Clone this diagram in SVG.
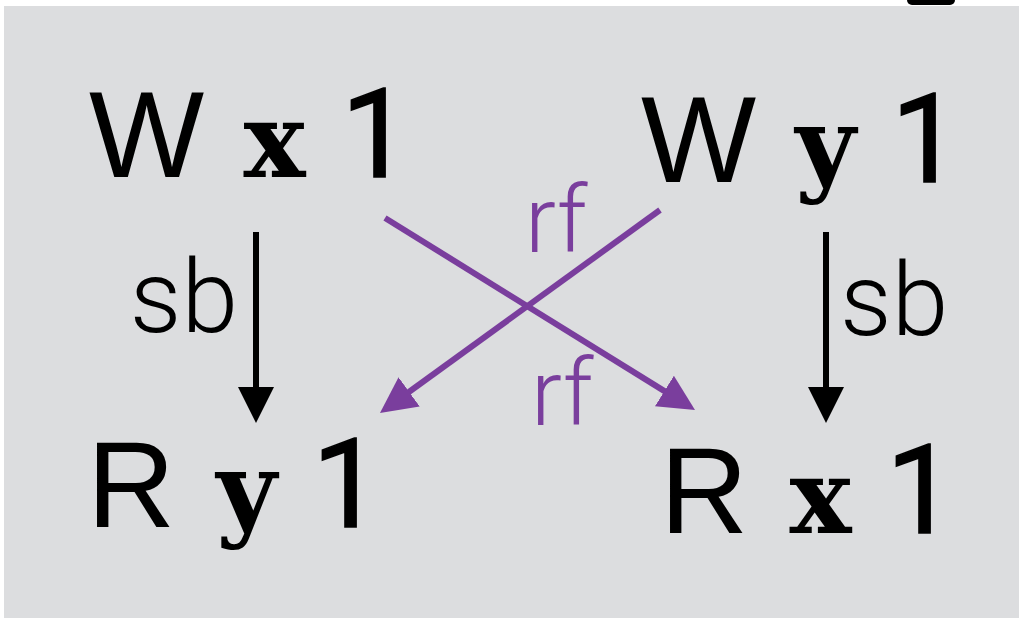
<svg xmlns="http://www.w3.org/2000/svg" width="1019" height="618" viewBox="0 0 1019 618">
<style>
.main{font-family:"Liberation Sans",Arial,sans-serif;font-size:122px;fill:#000}
.one{font-family:Roboto,"Open Sans",sans-serif;font-weight:400;font-size:124px;fill:#000;stroke:#000;stroke-width:1.5}
.mono{font-family:"DejaVu Serif","Liberation Serif",serif;font-weight:bold;font-size:104px;fill:#000;text-anchor:middle}
.lbl{font-family:Roboto,"Liberation Sans",sans-serif;font-weight:300}
.sb{fill:#000;font-size:102px}
.rf{fill:#7A3E9D;font-size:92px}
.blk{stroke:#000;stroke-width:6;fill:none}
.pur{stroke:#7A3E9D;stroke-width:6;fill:none}
</style>
<defs>
<marker id="ab" markerUnits="userSpaceOnUse" markerWidth="36" markerHeight="36" viewBox="0 0 36 36" refX="2" refY="18" orient="auto"><path d="M0,0 L36,18 L0,36 z" fill="#000"/></marker>
<marker id="ap" markerUnits="userSpaceOnUse" markerWidth="36" markerHeight="36" viewBox="0 0 36 36" refX="2" refY="18" orient="auto"><path d="M0,0 L36,18 L0,36 z" fill="#7A3E9D"/></marker>
</defs>
<rect x="4" y="6" width="1015" height="612" fill="#DCDDDF"/>
<rect x="907" y="-6" width="48" height="11" rx="5" fill="#000"/>
<g id="connectors">
<line class="blk" x1="256" y1="232" x2="256" y2="389" marker-end="url(#ab)"/>
<line class="blk" x1="826" y1="232" x2="826" y2="389" marker-end="url(#ab)"/>
<line class="pur" x1="385" y1="218" x2="666.1" y2="392.1" marker-end="url(#ap)"/>
<line class="pur" x1="660" y1="210" x2="407.5" y2="393" marker-end="url(#ap)"/>
<text class="lbl sb" x="238" y="332" text-anchor="end">sb</text>
<text class="lbl sb" x="840" y="335">sb</text>
<text class="lbl rf" x="525" y="252">rf</text>
<text class="lbl rf" x="531" y="425">rf</text>
</g>
<g id="wx1">
<text class="main" x="89" y="177">W</text>
<text class="mono" x="274.5" y="177">x</text>
<text class="one" x="341" y="177">1</text>
</g>
<g id="wy1">
<text class="main" x="641" y="182">W</text>
<text class="mono" x="825.5" y="182">y</text>
<text class="one" x="891" y="182">1</text>
</g>
<g id="ry1">
<text class="main" x="87" y="527">R</text>
<text class="mono" x="246.5" y="527">y</text>
<text class="one" x="312" y="527">1</text>
</g>
<g id="rx1">
<text class="main" x="660" y="533">R</text>
<text class="mono" x="820.5" y="533">x</text>
<text class="one" x="886" y="533">1</text>
</g>
</svg>
